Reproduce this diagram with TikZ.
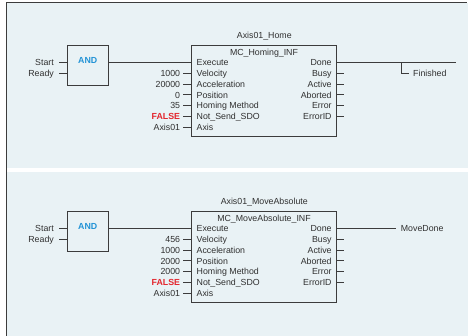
\documentclass[tikz,border=0pt]{standalone}
\usepackage{fontspec}
\setmainfont{Liberation Sans}
\definecolor{bg}{HTML}{E9F2F5}
\definecolor{ln}{HTML}{3C3C3C}
\definecolor{tx}{HTML}{303030}
\definecolor{andblue}{HTML}{2293D6}
\definecolor{falsered}{HTML}{E3262E}
\begin{document}
\begin{tikzpicture}[x=1pt,y=-1pt,
  every node/.style={font=\fontsize{8.8}{10}\selectfont, text=tx, inner sep=0pt},
  wire/.style={draw=ln, line width=0.8pt},
  blk/.style={draw=ln, line width=0.9pt, fill=bg, inner sep=0pt},
  pinl/.style={anchor=base west},
  pinr/.style={anchor=base east},
  andtxt/.style={text=andblue, font=\fontsize{8.8}{10}\selectfont\bfseries},
]
\useasboundingbox (0,0) rectangle (468,336);
\fill[bg] (6.5,3) rectangle (468,168);
\fill[bg] (6.5,172) rectangle (468,336);
\draw[ln, line width=1pt] (6.5,336) -- (6.5,3) -- (467,3);

% ---------------- Panel A ----------------
\node[blk, minimum width=40.5pt, minimum height=40pt] (anda) at (87.75,65.3) {};
\node[andtxt] (andta) at (87.75,60) {AND};
\node[pinr] (starta) at (54,65.9) {Start};
\node[pinr] (readya) at (54,76.9) {Ready};
\coordinate (sa) at (59,62.7);
\coordinate (ra) at (59,73.7);
\draw[wire] (sa) -- (sa -| anda.west);
\draw[wire] (ra) -- (ra -| anda.west);
\node[blk, minimum width=144.6pt, minimum height=91pt] (fba) at (264,90.6) {};
\node[anchor=base] (tita) at (264.3,38.9) {Axis01\_Home};
\node[anchor=base] (typa) at (264,55.9) {MC\_Homing\_INF};
\draw[wire] (anda.east |- sa) -- (fba.west |- sa);
\foreach \i/\nm/\vl in {0/Execute/,1/Velocity/1000,2/Acceleration/20000,3/Position/0,4/Homing Method/35,5/Not\_Send\_SDO/{\textcolor{falsered}{\bfseries FALSE}},6/Axis/Axis01}{
  \pgfmathsetmacro\yy{62.7+\i*10.72}
  \node[pinl] (ina\i) at (196.5,\yy+3.2) {\nm};
  \ifnum\i>0
    \node[pinr] (va\i) at (180.3,\yy+3.2) {\vl};
    \coordinate (ia\i) at (183,\yy);
    \draw[wire] (ia\i) -- (ia\i -| fba.west);
  \fi
}
\foreach \i/\nm in {0/Done,1/Busy,2/Active,3/Aborted,4/Error,5/ErrorID}{
  \pgfmathsetmacro\yy{62.7+\i*10.72}
  \node[pinr] (outa\i) at (331.8,\yy+3.2) {\nm};
  \ifnum\i>0
    \coordinate (oa\i) at (344,\yy);
    \draw[wire] (oa\i -| fba.east) -- (oa\i);
  \fi
}
\coordinate (enda) at (456,62.7);
\coordinate (brA) at (401.3,62.7);
\coordinate (fina) at (409,73.7);
\draw[wire] (fba.east |- enda) -- (enda);
\draw[wire] (brA) |- (fina);
\node[pinl] (finisheda) at (413,76.9) {Finished};

% ---------------- Panel B ----------------
\node[blk, minimum width=40.5pt, minimum height=40pt] (andb) at (87.75,231.3) {};
\node[andtxt] (andtb) at (87.75,226) {AND};
\node[pinr] (startb) at (54,231.9) {Start};
\node[pinr] (readyb) at (54,242.9) {Ready};
\coordinate (sb) at (59,228.7);
\coordinate (rb) at (59,239.7);
\draw[wire] (sb) -- (sb -| andb.west);
\draw[wire] (rb) -- (rb -| andb.west);
\node[blk, minimum width=144.6pt, minimum height=91pt] (fbb) at (264,256.6) {};
\node[anchor=base] (titb) at (264.3,204.9) {Axis01\_MoveAbsolute};
\node[anchor=base] (typb) at (264,221.9) {MC\_MoveAbsolute\_INF};
\draw[wire] (andb.east |- sb) -- (fbb.west |- sb);
\foreach \i/\nm/\vl in {0/Execute/,1/Velocity/456,2/Acceleration/1000,3/Position/2000,4/Homing Method/2000,5/Not\_Send\_SDO/{\textcolor{falsered}{\bfseries FALSE}},6/Axis/Axis01}{
  \pgfmathsetmacro\yy{228.7+\i*10.72}
  \node[pinl] (inb\i) at (196.5,\yy+3.2) {\nm};
  \ifnum\i>0
    \node[pinr] (vb\i) at (180.3,\yy+3.2) {\vl};
    \coordinate (ib\i) at (183,\yy);
    \draw[wire] (ib\i) -- (ib\i -| fbb.west);
  \fi
}
\foreach \i/\nm in {0/Done,1/Busy,2/Active,3/Aborted,4/Error,5/ErrorID}{
  \pgfmathsetmacro\yy{228.7+\i*10.72}
  \node[pinr] (outb\i) at (331.8,\yy+3.2) {\nm};
  \ifnum\i>0
    \coordinate (ob\i) at (344,\yy);
    \draw[wire] (ob\i -| fbb.east) -- (ob\i);
  \fi
}
\coordinate (endb) at (396.3,228.7);
\draw[wire] (fbb.east |- endb) -- (endb);
\node[pinl] (movedoneb) at (400.7,231.9) {MoveDone};
\end{tikzpicture}
\end{document}
